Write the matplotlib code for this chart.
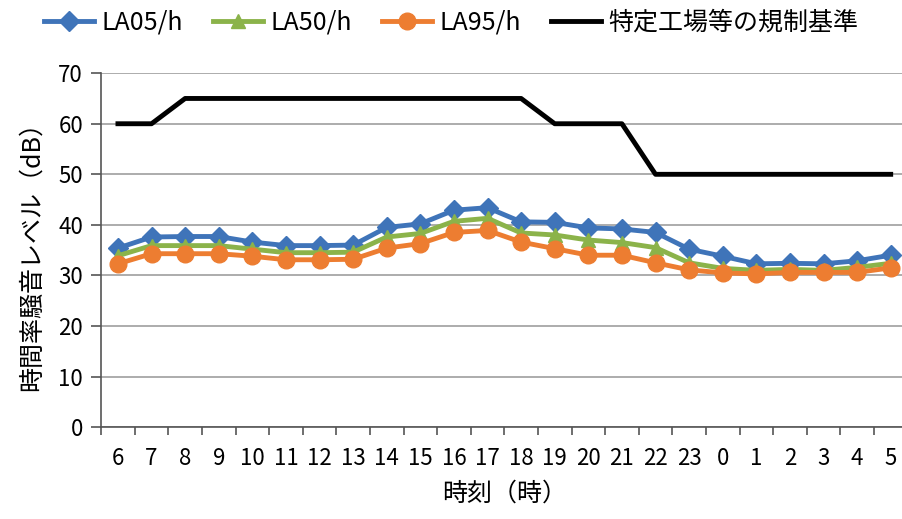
import numpy as np
import matplotlib
matplotlib.use("Agg")
import matplotlib.pyplot as plt

plt.rcParams['font.family'] = ['Noto Sans CJK JP', 'DejaVu Sans']

# data (hourly, starting at 6 o'clock)
hours = ["6", "7", "8", "9", "10", "11", "12", "13", "14", "15", "16", "17",
         "18", "19", "20", "21", "22", "23", "0", "1", "2", "3", "4", "5"]
la05 = [35.4, 37.6, 37.7, 37.7, 36.6, 35.9, 35.9, 36.0, 39.5, 40.2, 42.9, 43.4,
        40.6, 40.5, 39.4, 39.2, 38.5, 35.2, 33.8, 32.3, 32.4, 32.3, 32.9, 34.0]
la50 = [33.9, 35.9, 35.9, 35.9, 35.2, 34.5, 34.5, 34.6, 37.6, 38.3, 40.7, 41.3,
        38.4, 38.0, 37.0, 36.5, 35.5, 32.5, 31.4, 31.0, 31.2, 31.0, 31.6, 32.4]
la95 = [32.3, 34.3, 34.3, 34.3, 33.8, 33.1, 33.1, 33.2, 35.4, 36.3, 38.5, 38.9,
        36.6, 35.3, 34.0, 34.0, 32.5, 31.1, 30.5, 30.3, 30.6, 30.6, 30.6, 31.5]
limit = [60, 60, 65, 65, 65, 65, 65, 65, 65, 65, 65, 65,
         65, 60, 60, 60, 50, 50, 50, 50, 50, 50, 50, 50]

x = np.arange(len(hours))

fig = plt.figure(figsize=(9.03, 5.19), dpi=100)
ax = fig.add_axes([0.112, 0.177, 0.893, 0.682])

ax.plot(x, la05, color='#3F74B9', lw=3.5, marker='D', ms=10, label='LA05/h', zorder=3)
ax.plot(x, la50, color='#8BB34A', lw=3.5, marker='^', ms=10, label='LA50/h', zorder=4)
ax.plot(x, la95, color='#ED7D31', lw=3.5, marker='o', ms=12, label='LA95/h', zorder=5)
ax.plot(x, limit, color='black', lw=3.5, label='特定工場等の規制基準', zorder=6)

ax.set_xlim(-0.5, len(hours) - 0.5)
ax.set_ylim(0, 70)
ax.set_yticks(range(0, 71, 10))
ax.set_xticks(x)
ax.set_xticklabels(hours)
ax.set_xticks(np.arange(-0.5, len(hours), 1), minor=True)
ax.tick_params(axis='x', which='major', length=0, pad=14, labelsize=16)
ax.tick_params(axis='x', which='minor', length=6, direction='out', width=1.2, color='#555555')
ax.tick_params(axis='y', length=7, width=1.2, color='#555555', labelsize=16, pad=6)

ax.grid(axis='y', color='#A6A6A6', lw=1.3)
ax.set_axisbelow(True)
for s in ['top', 'right']:
    ax.spines[s].set_visible(False)
ax.spines['left'].set_color('#555555')
ax.spines['bottom'].set_color('#555555')
ax.spines['left'].set_linewidth(1.2)
ax.spines['bottom'].set_linewidth(1.2)

ax.set_xlabel('時刻（時）', fontsize=18, labelpad=8)
ax.set_ylabel('時間率騒音レベル（dB）', fontsize=18, labelpad=10)

fig.legend(loc='upper center', bbox_to_anchor=(0.5, 1.025), ncol=4, frameon=False,
           fontsize=18, handlelength=2.0, columnspacing=1.2, handletextpad=0.3)

fig.savefig('out.png', dpi=100)
